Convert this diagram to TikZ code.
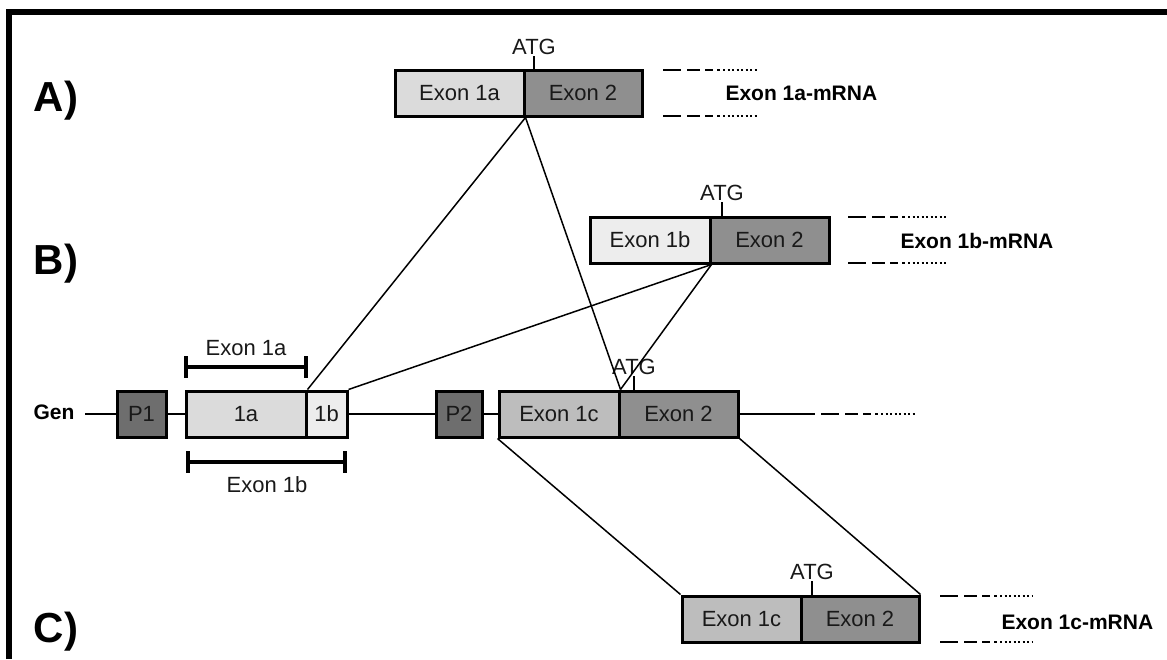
\documentclass[tikz,border=0pt]{standalone}
\usepackage{fontspec}
\setmainfont{Liberation Sans}
\begin{document}
\begin{tikzpicture}[x=1pt,y=-1pt,
  txt/.style={font=\fontsize{22}{26}\selectfont, text=black!90},
  box/.style={draw=black, line width=3pt, minimum height=46pt, inner sep=0pt, txt},
  exA/.style={box, fill=black!14},
  exB/.style={box, fill=black!7},
  exC/.style={box, fill=black!26},
  exT/.style={box, fill=black!44},
  prom/.style={box, fill=black!57},
  conn/.style={line width=1.5pt},
  gline/.style={line width=2.8pt},
  tail/.style={line width=2.8pt, dash pattern=on 18pt off 6pt on 13pt off 5pt on 8pt off 4pt on 3pt off 3pt on 2pt off 2.5pt on 2pt off 2.5pt on 2pt off 2.5pt on 2pt off 2.5pt on 2pt off 2.5pt on 2pt off 2.5pt on 2pt off 2.5pt on 2pt off 2.5pt on 2pt off 20pt},
  tick/.style={line width=1.2pt},
  bar/.style={line width=4.5pt},
  lbl/.style={font=\bfseries\fontsize{21}{25}\selectfont},
  big/.style={font=\bfseries\fontsize{42}{46}\selectfont}
]
\useasboundingbox (0,0) rectangle (1167,659);
% frame (top and left)
\draw[line width=5.5pt] (9,659) -- (9,12) -- (1167,12);

% panel labels
\node[big] (la) at (56,101) {A)};
\node[big] (lb) at (56,264) {B)};
\node[big] (lc) at (56,632) {C)};

% A) mRNA
\node[exA, minimum width=129pt] (a1) at (459.5,93) {Exon 1a};
\node[exT, minimum width=118pt] (a2) at (583,93) {Exon 2};
\node[lbl, anchor=west] (alab) at (722,93) {Exon 1a-mRNA};
\coordinate (at1) at (663,70); \coordinate (at2) at (758,70);
\coordinate (ab1) at (663,116); \coordinate (ab2) at (758,116);
\draw[tail] (at1) -- (at2);
\draw[tail] (ab1) -- (ab2);
\coordinate (atgA) at (534,70);
\draw[tick] (atgA) -- ++(0,-14) coordinate (atgAt);
\node[txt, anchor=south, inner sep=1pt] (atgAl) at (atgAt) {ATG};

% B) mRNA
\node[exB, minimum width=120pt] (b1) at (650,240) {Exon 1b};
\node[exT, minimum width=119pt] (b2) at (769.5,240) {Exon 2};
\node[lbl, anchor=west] (blab) at (897,241) {Exon 1b-mRNA};
\coordinate (bt1) at (848,217); \coordinate (bt2) at (947,217);
\coordinate (bb1) at (848,263); \coordinate (bb2) at (947,263);
\draw[tail] (bt1) -- (bt2);
\draw[tail] (bb1) -- (bb2);
\coordinate (atgB) at (722,217);
\draw[tick] (atgB) -- ++(0,-15) coordinate (atgBt);
\node[txt, anchor=south, inner sep=1pt] (atgBl) at (atgBt) {ATG};

% Gene
\node[lbl, anchor=east] (gen) at (78,412) {Gen};
\coordinate (g0) at (85,414);
\node[prom, minimum width=49pt] (p1) at (141.5,414) {P1};
\node[exA, minimum width=120pt] (g1a) at (246,414) {1a};
\node[exB, minimum width=41pt] (g1b) at (326.5,414) {1b};
\node[prom, minimum width=46pt] (p2) at (459,414) {P2};
\node[exC, minimum width=120pt] (g1c) at (559,414) {Exon 1c};
\node[exT, minimum width=119pt] (g2) at (678.5,414) {Exon 2};
\coordinate (gs0) at (815,414);
\coordinate (gs) at (821,414);
\coordinate (ge) at (915,414);
\draw[gline] (g0) -- (p1.west);
\draw[gline] (p1.east) -- (g1a.west);
\draw[gline] (g1b.east) -- (p2.west);
\draw[gline] (p2.east) -- (g1c.west);
\draw[gline] (g2.east) -- (gs0);
\draw[tail] (gs) -- (ge);
\coordinate (atgG) at (634,391);
\draw[tick] (atgG) -- ++(0,-15) coordinate (atgGt);
\node[txt, anchor=south, inner sep=1pt] (atgGl) at (atgGt) {ATG};

% exon bars
\coordinate (xa1) at (186,367); \coordinate (xa2) at (306,367);
\draw[bar] (xa1) -- (xa2);
\draw[bar] (186,356) -- (186,378);
\draw[bar] (306,356) -- (306,378);
\node[txt] (xal) at (246,348) {Exon 1a};
\coordinate (xb1) at (188,462); \coordinate (xb2) at (345,462);
\draw[bar] (xb1) -- (xb2);
\draw[bar] (188,451) -- (188,473);
\draw[bar] (345,451) -- (345,473);
\node[txt] (xbl) at (267,485) {Exon 1b};

% C) mRNA
\node[exC, minimum width=119pt] (c1) at (741.5,619) {Exon 1c};
\node[exT, minimum width=118pt] (c2) at (860,619) {Exon 2};
\node[lbl, anchor=west] (clab) at (998,622) {Exon 1c-mRNA};
\coordinate (ct1) at (940,596); \coordinate (ct2) at (1033,596);
\coordinate (cb1) at (940,642); \coordinate (cb2) at (1033,642);
\draw[tail] (ct1) -- (ct2);
\draw[tail] (cb1) -- (cb2);
\coordinate (atgC) at (812,596);
\draw[tick] (atgC) -- ++(0,-15) coordinate (atgCt);
\node[txt, anchor=south, inner sep=1pt] (atgCl) at (atgCt) {ATG};

% connectors
\draw[conn] (a1.south east) -- (g1a.north east);
\draw[conn] (a1.south east) -- (g1c.north east);
\draw[conn] (b1.south east) -- (g1b.north east);
\draw[conn] (b1.south east) -- (g1c.north east);
\draw[conn] (g1c.south west) -- (c1.north west);
\draw[conn] (g2.south east) -- (c2.north east);
\end{tikzpicture}
\end{document}
